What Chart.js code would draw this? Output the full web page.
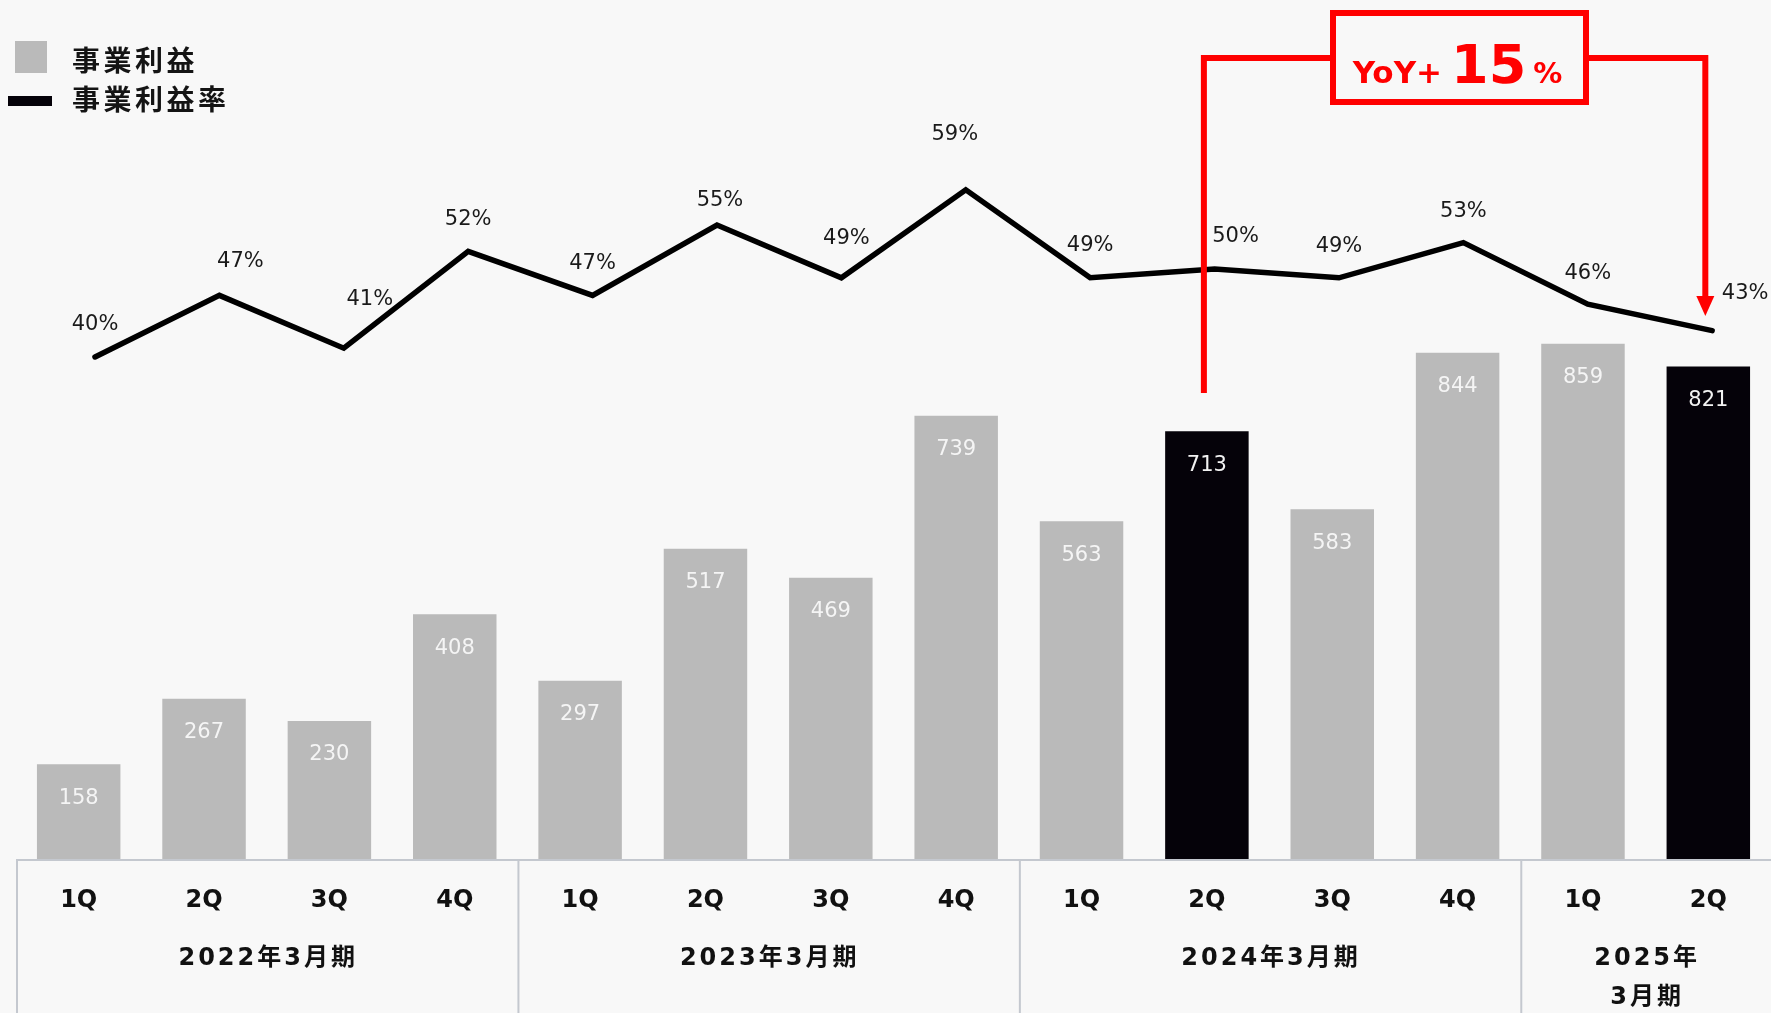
<!DOCTYPE html>
<html lang="ja">
<head>
<meta charset="utf-8">
<title>事業利益・事業利益率</title>
<script src="https://cdn.jsdelivr.net/npm/chart.js@4.4.1/dist/chart.umd.min.js"></script>
<style>
  html, body { margin: 0; padding: 0; background: #f8f8f8; }
  #wrap { width: 1771px; height: 1013px; }
</style>
</head>
<body>
<div id="wrap"><canvas id="chart" width="1771" height="1013"></canvas></div>
<script>
// ---- data ----
const quarters = ['1Q', '2Q', '3Q', '4Q', '1Q', '2Q', '3Q', '4Q', '1Q', '2Q', '3Q', '4Q', '1Q', '2Q'];
const fiscalYears = ['2022年3月期', '2023年3月期', '2024年3月期', '2025年\n3月期'];
const quartersPerYear = [4, 4, 4, 2];
const businessProfit = [158, 267, 230, 408, 297, 517, 469, 739, 563, 713, 583, 844, 859, 821];
const profitMargin = [40, 47, 41, 52, 47, 55, 49, 59, 49, 50, 49, 53, 46, 43];
const highlightedQuarters = [9, 13];
const yoyParts = ['YoY+', '15', '%'];
const yoyFrom = 9;
const yoyTo = 13;

// ---- styling ----
const BG = '#f8f8f8';
const GREY = '#bababa';
const BLACK = '#050209';
const RED = '#ff0000';
const LATIN = '"DejaVu Sans", "Noto Sans CJK JP", sans-serif';
const CJK = '"Noto Sans CJK JP", "DejaVu Sans", sans-serif';

// label offsets [dx, dy-above] for each margin point label
const marginLabelOffsets = [[0, 32], [21, 34], [26, 49], [0, 32], [0, 32], [3, 24], [5, 39],
  [-11, 55], [0, 32], [21, 32], [0, 31], [0, 31], [0, 31], [33, 37]];

const barColors = businessProfit.map((_, i) => highlightedQuarters.includes(i) ? BLACK : GREY);

const background = {
  id: 'background',
  beforeDraw(chart) {
    const c = chart.ctx;
    c.save();
    c.fillStyle = BG;
    c.fillRect(0, 0, chart.width, chart.height);
    c.restore();
  }
};

// value labels inside bars and above line points
const valueLabels = {
  id: 'valueLabels',
  afterDatasetsDraw(chart) {
    const c = chart.ctx;
    c.save();
    c.textAlign = 'center';
    c.textBaseline = 'middle';
    c.font = '21px ' + LATIN;
    chart.getDatasetMeta(0).data.forEach((bar, i) => {
      c.fillStyle = highlightedQuarters.includes(i) ? '#f2f2f2' : '#f5f5f5';
      c.fillText(String(businessProfit[i]), bar.x, bar.y + 34);
    });
    c.fillStyle = '#1a1a1a';
    chart.getDatasetMeta(1).data.forEach((pt, i) => {
      const [dx, dy] = marginLabelOffsets[i];
      c.fillText(profitMargin[i] + '%', pt.x + dx, pt.y - dy);
    });
    c.restore();
  }
};

// bottom axis: frame lines and fiscal-year group labels
const periodAxis = {
  id: 'periodAxis',
  afterDraw(chart) {
    const c = chart.ctx;
    const x = chart.scales.x;
    const base = chart.chartArea.bottom;
    const step = x.getPixelForValue(1) - x.getPixelForValue(0);
    c.save();
    c.strokeStyle = '#c4c8cf';
    c.lineWidth = 2;
    c.beginPath();
    c.moveTo(x.getPixelForValue(0) - step / 2, base + 1);
    c.lineTo(chart.width, base + 1);
    c.stroke();
    c.font = 'bold 24px ' + LATIN;
    c.fillStyle = '#111';
    c.textAlign = 'center';
    c.textBaseline = 'middle';
    c.letterSpacing = '3px';
    let start = 0;
    quartersPerYear.forEach((n, g) => {
      const left = x.getPixelForValue(start) - step / 2;
      const right = x.getPixelForValue(start + n - 1) + step / 2;
      c.beginPath();
      c.moveTo(left + 1, base);
      c.lineTo(left + 1, chart.height);
      c.stroke();
      fiscalYears[g].split('\n').forEach((t, k) => {
        c.fillText(t, (left + right) / 2 + 1.5, base + 100 + k * 39);
      });
      start += n;
    });
    c.restore();
  }
};

// YoY bracket between the two highlighted quarters
const yoyCallout = {
  id: 'yoyCallout',
  afterDatasetsDraw(chart) {
    const c = chart.ctx;
    const x = chart.scales.x;
    const xa = x.getPixelForValue(yoyFrom) - 3;
    const xb = x.getPixelForValue(yoyTo) - 3;
    const box = { l: 1333, t: 13, r: 1586, b: 102 };
    const armY = 58;
    c.save();
    c.strokeStyle = RED;
    c.fillStyle = RED;
    c.lineWidth = 6;
    c.lineJoin = 'miter';
    c.beginPath();
    c.moveTo(xa, 393);
    c.lineTo(xa, armY);
    c.lineTo(box.l, armY);
    c.moveTo(box.r, armY);
    c.lineTo(xb, armY);
    c.lineTo(xb, 298);
    c.stroke();
    c.beginPath();
    c.moveTo(xb - 9, 296);
    c.lineTo(xb + 9, 296);
    c.lineTo(xb, 316);
    c.closePath();
    c.fill();
    c.strokeRect(box.l, box.t, box.r - box.l, box.b - box.t);
    // text
    c.textBaseline = 'alphabetic';
    c.textAlign = 'left';
    const fonts = ['bold 31px ' + LATIN, 'bold 54px ' + LATIN, 'bold 29px ' + LATIN];
    const gaps = [9, 7, 0];
    let total = 0;
    const widths = yoyParts.map((t, i) => { c.font = fonts[i]; const w = c.measureText(t).width; total += w + gaps[i]; return w; });
    let cx = (box.l + box.r) / 2 - total / 2 - 2;
    yoyParts.forEach((t, i) => {
      c.font = fonts[i];
      c.fillText(t, cx, 83);
      cx += widths[i] + gaps[i];
    });
    c.restore();
  }
};

// legend in the upper-left corner
const cornerLegend = {
  id: 'cornerLegend',
  afterDraw(chart) {
    const c = chart.ctx;
    const ds = chart.data.datasets;
    c.save();
    c.fillStyle = GREY;
    c.fillRect(15, 41, 32, 32);
    c.fillStyle = BLACK;
    c.fillRect(8, 96, 44, 10);
    c.font = 'bold 28px ' + CJK;
    c.letterSpacing = '3.5px';
    c.fillStyle = '#141414';
    c.textAlign = 'left';
    c.textBaseline = 'middle';
    c.fillText(ds[0].label, 72, 60);
    c.fillText(ds[1].label, 72, 99);
    c.restore();
  }
};

new Chart(document.getElementById('chart'), {
  type: 'bar',
  data: {
    labels: quarters,
    datasets: [
      {
        type: 'bar',
        label: '事業利益',
        data: businessProfit,
        backgroundColor: barColors,
        borderWidth: 0,
        grouped: false,
        categoryPercentage: 1,
        barPercentage: 0.666,
        xAxisID: 'x',
        yAxisID: 'y',
        order: 2
      },
      {
        type: 'line',
        label: '事業利益率',
        data: profitMargin.map((v, i) => ({ x: i, y: v })),
        borderColor: '#000',
        borderWidth: 5.5,
        borderCapStyle: 'round',
        borderJoinStyle: 'miter',
        pointRadius: 0,
        tension: 0,
        fill: false,
        xAxisID: 'xl',
        yAxisID: 'yl',
        clip: false,
        order: 1
      }
    ]
  },
  options: {
    responsive: false,
    devicePixelRatio: 1,
    animation: false,
    layout: { padding: { left: 16, right: 0, top: 0, bottom: 0 } },
    plugins: { legend: { display: false }, tooltip: { enabled: false } },
    scales: {
      x: {
        type: 'category',
        position: 'bottom',
        offset: true,
        grid: { display: false, drawTicks: false },
        border: { display: false },
        ticks: {
          autoSkip: false,
          maxRotation: 0,
          padding: 27,
          color: '#111',
          font: { family: LATIN, weight: 'bold', size: 24 }
        },
        afterFit(scale) { scale.height = 154; }
      },
      xl: {
        type: 'linear', display: false, offset: false,
        grid: { offset: false }, min: -0.635, max: 13.473
      },
      y: { display: false, min: 0, max: 1432 },
      yl: { display: false, min: -17.05, max: 80.57 }
    }
  },
  plugins: [background, valueLabels, yoyCallout, periodAxis, cornerLegend]
});
</script>
</body>
</html>
